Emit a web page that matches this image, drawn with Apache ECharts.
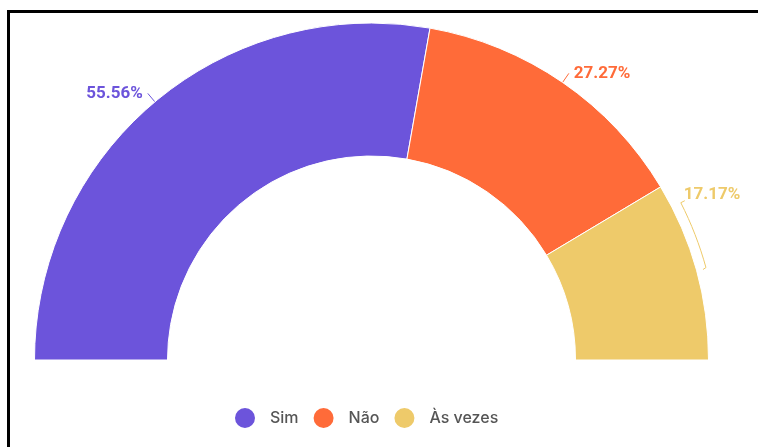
<!DOCTYPE html>
<html>
<head>
<meta charset="utf-8">
<script src="https://cdn.jsdelivr.net/npm/echarts@6/dist/echarts.min.js"></script>
<style>
  html, body { margin: 0; padding: 0; background: #fff; overflow: hidden; }
  #wrap { position: relative; width: 758px; height: 447px; overflow: hidden; }
  #frame { position: absolute; left: 7px; top: 10px; width: 800px; height: 500px;
           border: 3px solid #000; box-sizing: border-box; pointer-events: none; }
  #chart { position: absolute; left: 0; top: 0; width: 758px; height: 447px; }
</style>
</head>
<body>
<div id="wrap">
  <div id="chart"></div>
  <div id="frame"></div>
</div>
<script>
// Answers and their counts
const categories = ['Sim', 'Não', 'Às vezes'];
const counts = [55, 27, 17];
const colors = ['#6C54DB', '#FF6B39', '#EECA6A'];

// Half-ring geometry
const CENTER = [371.5, 360];
const RADII = [204, 337];

function arcPoint(deg, r) {
  const a = deg * Math.PI / 180;
  return [CENTER[0] + r * Math.cos(a), CENTER[1] - r * Math.sin(a)];
}

const total = counts.reduce((s, v) => s + v, 0);
// mid angle (degrees, counter-clockwise from +x) of each slice on a 180..0 sweep
const midAngles = [];
let acc = 0;
counts.forEach(v => { midAngles.push(180 * (1 - (acc + v / 2) / total)); acc += v; });

const data = categories.map((name, i) => ({
  name,
  value: counts[i],
  itemStyle: { color: colors[i] },
  label: { color: colors[i] },
  labelLine: { lineStyle: { color: colors[i] } }
}));
// per-slice label tweaks
data[0].label.padding = [0, 0, 16, 0];
data[1].label.padding = [0, 0, 10, 0];

const chart = echarts.init(document.getElementById('chart'), null, { renderer: 'canvas' });
chart.setOption({
  animation: false,
  legend: {
    data: categories,
    left: 228,
    top: 401,
    icon: 'circle',
    itemWidth: 22,
    itemHeight: 22,
    itemGap: 13,
    textStyle: { fontFamily: 'Inter', fontSize: 16, fontWeight: 500, color: '#555', padding: [0, 0, 0, 9] }
  },
  series: [{
    type: 'pie',
    center: CENTER,
    radius: RADII,
    startAngle: 180,
    endAngle: 0,
    clockwise: true,
    avoidLabelOverlap: false,
    itemStyle: { borderColor: '#fff', borderWidth: 1 },
    label: {
      show: true,
      position: 'outside',
      formatter: '{d}%',
      fontFamily: 'Roboto',
      fontSize: 17,
      fontWeight: 700
    },
    labelLine: { show: true, length: 11, length2: 0, lineStyle: { width: 1 } },
    labelLayout: function (p) {
      if (p.dataIndex !== 2) return {};
      // bracket beside the last slice, running along the ring
      const mid = midAngles[2];
      const rr = RADII[1] + 10;
      const top = arcPoint(mid + 11.5, rr);
      const bottom = arcPoint(mid, rr);
      const pts = [[top[0] + 4, top[1] - 2], top];
      const steps = 8;
      for (let k = 1; k < steps; k++) {
        pts.push(arcPoint(mid + 11.5 * (1 - k / steps), rr));
      }
      pts.push(bottom, [bottom[0] - 3, bottom[1] + 2]);
      return {
        x: top[0] + 3,
        y: top[1] - 8,
        align: 'left',
        verticalAlign: 'middle',
        labelLinePoints: pts
      };
    },
    data
  }]
});
</script>
</body>
</html>
